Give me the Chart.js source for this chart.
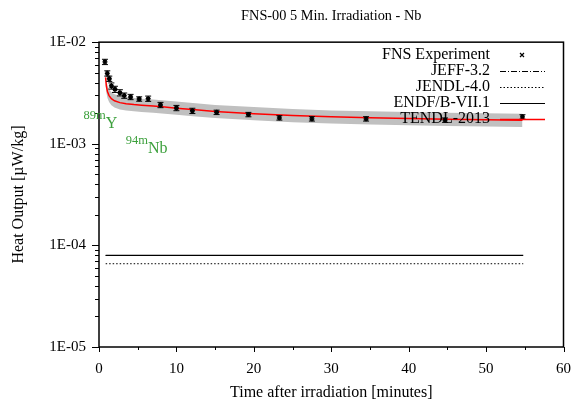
<!DOCTYPE html>
<html>
<head>
<meta charset="utf-8">
<script src="https://cdn.jsdelivr.net/npm/chart.js@4.4.1/dist/chart.umd.min.js"></script>
<style>
html, body { margin: 0; padding: 0; background: #fff; }
</style>
</head>
<body>
<canvas id="chart" width="576" height="404"></canvas>
<script>
// ---- data ----
const expTime = [0.77, 1.07, 1.33, 1.6, 2.06, 2.7, 3.26, 4.08, 5.19, 6.35, 7.94, 10.0, 12.06, 15.19, 19.3, 23.3, 27.5, 34.5, 44.7, 54.7];
const expHeat = [6.4e-3, 4.93e-3, 4.37e-3, 3.71e-3, 3.44e-3, 3.18e-3, 2.98e-3, 2.89e-3, 2.76e-3, 2.78e-3, 2.41e-3, 2.25e-3, 2.11e-3, 2.04e-3, 1.94e-3, 1.80e-3, 1.76e-3, 1.76e-3, 1.71e-3, 1.84e-3];
const expErr  = [0.06, 0.06, 0.06, 0.07, 0.07, 0.07, 0.06, 0.06, 0.05, 0.06, 0.06, 0.06, 0.06, 0.05, 0.05, 0.05, 0.05, 0.05, 0.05, 0.05];

const tendlTime  = [0.85, 0.95, 1.1, 1.3, 1.6, 2.0, 2.7, 3.5, 4.5, 5.5, 7, 8.5, 10, 12.5, 15, 20, 25, 30, 35, 40, 45, 50, 54.7];
const tendlHeat  = [4.5e-3, 3.7e-3, 3.25e-3, 2.98e-3, 2.78e-3, 2.65e-3, 2.54e-3, 2.48e-3, 2.43e-3, 2.40e-3, 2.35e-3, 2.30e-3, 2.24e-3, 2.16e-3, 2.08e-3, 1.98e-3, 1.90e-3, 1.84e-3, 1.80e-3, 1.77e-3, 1.74e-3, 1.72e-3, 1.70e-3];
const tendlUpper = [5.0e-3, 4.3e-3, 3.75e-3, 3.45e-3, 3.22e-3, 3.07e-3, 2.95e-3, 2.88e-3, 2.82e-3, 2.78e-3, 2.73e-3, 2.67e-3, 2.60e-3, 2.51e-3, 2.41e-3, 2.30e-3, 2.20e-3, 2.13e-3, 2.09e-3, 2.05e-3, 2.02e-3, 2.00e-3, 1.97e-3];
const tendlLower = [3.9e-3, 3.2e-3, 2.8e-3, 2.57e-3, 2.39e-3, 2.28e-3, 2.18e-3, 2.13e-3, 2.09e-3, 2.06e-3, 2.02e-3, 1.98e-3, 1.93e-3, 1.86e-3, 1.79e-3, 1.70e-3, 1.63e-3, 1.58e-3, 1.55e-3, 1.52e-3, 1.50e-3, 1.48e-3, 1.46e-3];

const flatTime  = [0.86, 54.8];
const endfHeat  = [7.98e-5, 7.98e-5];
const jeffHeat  = [7.95e-5, 7.95e-5];
const jendlHeat = [6.6e-5, 6.6e-5];

const xTickValues = [0, 10, 20, 30, 40, 50, 60];
const yTickValues = [1e-5, 1e-4, 1e-3, 1e-2];
const yTickLabels = ['1E-05', '1E-04', '1E-03', '1E-02'];

const isoLabels = [
  { sup: '89m', main: 'Y',  x: -2.0, y: 1.43e-3 },
  { sup: '94m', main: 'Nb', x: 3.45, y: 8.1e-4 }
];

const SERIF = '"Liberation Serif", "DejaVu Serif", serif';
const GREEN = 'rgb(60,160,60)';

function pts(xs, ys) {
  return xs.map((x, i) => ({ x: x, y: ys[i] }));
}

// legend entries (drawn by hand, gnuplot style: text right, sample left of box edge)
const legendItems = [
  { text: 'FNS Experiment', kind: 'point' },
  { text: 'JEFF-3.2',       kind: 'line', color: '#000', dash: [6, 2, 1, 2] },
  { text: 'JENDL-4.0',      kind: 'line', color: '#000', dash: [1.5, 2] },
  { text: 'ENDF/B-VII.1',   kind: 'line', color: '#000', dash: [] },
  { text: 'TENDL-2013',     kind: 'line', color: '#ff0000', dash: [] }
];

// ---- plugins ----
const errorBars = {
  id: 'errorBars',
  afterDatasetsDraw(chart) {
    const { ctx, scales: { x, y } } = chart;
    ctx.save();
    ctx.strokeStyle = '#000';
    ctx.lineWidth = 1;
    expTime.forEach((t, i) => {
      const px = x.getPixelForValue(t);
      const top = y.getPixelForValue(expHeat[i] * (1 + expErr[i]));
      const bot = y.getPixelForValue(expHeat[i] * (1 - expErr[i]));
      ctx.beginPath();
      ctx.moveTo(px, top); ctx.lineTo(px, bot);
      ctx.moveTo(px - 3, top); ctx.lineTo(px + 3, top);
      ctx.moveTo(px - 3, bot); ctx.lineTo(px + 3, bot);
      ctx.stroke();
    });
    ctx.restore();
  }
};

const frameAndTicks = {
  id: 'frameAndTicks',
  afterDraw(chart) {
    const { ctx, chartArea: a, scales: { x, y } } = chart;
    ctx.save();
    ctx.strokeStyle = '#000';
    ctx.lineWidth = 1.5;
    ctx.strokeRect(a.left, a.top, a.right - a.left, a.bottom - a.top);
    ctx.lineWidth = 1;
    ctx.beginPath();
    // x ticks, major every 10, minor every 5
    for (let v = 0; v <= 60; v += 5) {
      const px = Math.round(x.getPixelForValue(v)) + 0.5;
      const len = (v % 10 === 0) ? 5 : 3;
      ctx.moveTo(px, a.bottom); ctx.lineTo(px, a.bottom + len);
    }
    // y ticks on log scale
    for (let e = -5; e <= -2; e++) {
      for (let m = 1; m <= 9; m++) {
        const v = m * Math.pow(10, e);
        if (v > 1.0001e-2) break;
        const py = Math.round(y.getPixelForValue(v)) + 0.5;
        const len = (m === 1) ? 7 : 4;
        ctx.moveTo(a.left, py); ctx.lineTo(a.left - len, py);
      }
    }
    ctx.stroke();
    ctx.restore();
  }
};

const isoText = {
  id: 'isoText',
  afterDraw(chart) {
    const { ctx, scales: { x, y } } = chart;
    ctx.save();
    ctx.fillStyle = GREEN;
    ctx.textBaseline = 'alphabetic';
    ctx.textAlign = 'left';
    isoLabels.forEach(l => {
      const px = x.getPixelForValue(l.x);
      const py = y.getPixelForValue(l.y);
      ctx.font = '12.5px ' + SERIF;
      ctx.fillText(l.sup, px, py - 9);
      const w = ctx.measureText(l.sup).width;
      ctx.font = '16px ' + SERIF;
      ctx.fillText(l.main, px + w, py);
    });
    ctx.restore();
  }
};

const gnuLegend = {
  id: 'gnuLegend',
  afterDraw(chart) {
    const { ctx } = chart;
    const textRight = 490, sx0 = 500, sx1 = 545, y0 = 55, dy = 16;
    ctx.save();
    ctx.font = '16px ' + SERIF;
    ctx.textAlign = 'right';
    ctx.textBaseline = 'middle';
    legendItems.forEach((it, i) => {
      const yy = y0 + i * dy;
      ctx.fillStyle = '#000';
      ctx.fillText(it.text, textRight, yy);
      if (it.kind === 'point') {
        ctx.beginPath();
        ctx.strokeStyle = '#000';
        ctx.lineWidth = 1.2;
        ctx.moveTo(520, yy - 2); ctx.lineTo(524, yy + 2);
        ctx.moveTo(520, yy + 2); ctx.lineTo(524, yy - 2);
        ctx.stroke();
      } else {
        ctx.beginPath();
        ctx.strokeStyle = it.color;
        ctx.lineWidth = it.color === '#ff0000' ? 1.5 : 1.2;
        ctx.setLineDash(it.dash);
        ctx.moveTo(sx0, yy + 0.5); ctx.lineTo(sx1, yy + 0.5);
        ctx.stroke();
        ctx.setLineDash([]);
      }
    });
    ctx.restore();
  }
};

// ---- chart ----
const ctx = document.getElementById('chart').getContext('2d');
new Chart(ctx, {
  type: 'line',
  data: {
    datasets: [
      {
        label: 'FNS Experiment',
        data: pts(expTime, expHeat),
        showLine: false,
        pointStyle: 'star',
        pointRadius: 2.5,
        borderColor: '#000',
        backgroundColor: '#000',
        borderWidth: 1.4
      },
      {
        label: 'TENDL-2013',
        data: pts(tendlTime, tendlHeat),
        borderColor: '#ff0000',
        borderWidth: 1.5,
        pointRadius: 0,
        fill: false
      },
      {
        label: 'ENDF/B-VII.1',
        data: pts(flatTime, endfHeat),
        borderColor: '#000',
        borderWidth: 1.2,
        pointRadius: 0,
        fill: false
      },
      {
        label: 'JEFF-3.2',
        data: pts(flatTime, jeffHeat),
        borderColor: '#000',
        borderWidth: 1,
        borderDash: [6, 2, 1, 2],
        pointRadius: 0,
        fill: false
      },
      {
        label: 'JENDL-4.0',
        data: pts(flatTime, jendlHeat),
        borderColor: '#000',
        borderWidth: 1,
        borderDash: [1.5, 2],
        pointRadius: 0,
        fill: false
      },
      {
        label: 'TENDL upper',
        data: pts(tendlTime, tendlUpper),
        borderColor: 'rgba(0,0,0,0)',
        borderWidth: 0,
        backgroundColor: 'rgb(192,192,192)',
        pointRadius: 0,
        fill: '+1'
      },
      {
        label: 'TENDL lower',
        data: pts(tendlTime, tendlLower),
        borderColor: 'rgba(0,0,0,0)',
        borderWidth: 0,
        pointRadius: 0,
        fill: false
      }
    ]
  },
  options: {
    responsive: false,
    animation: false,
    events: [],
    layout: { padding: { top: 0, right: 12, bottom: 0, left: 0 } },
    plugins: {
      legend: { display: false },
      tooltip: { enabled: false },
      title: {
        display: true,
        fullSize: false,
        text: 'FNS-00 5 Min. Irradiation - Nb',
        color: '#000',
        font: { family: SERIF, size: 14.3, weight: 'normal' },
        padding: { top: 8, bottom: 17 }
      }
    },
    scales: {
      x: {
        type: 'linear',
        min: 0,
        max: 60,
        afterBuildTicks: s => { s.ticks = xTickValues.map(v => ({ value: v })); },
        afterFit: s => { s.height = 57; },
        grid: { display: false },
        border: { display: false },
        ticks: {
          color: '#000',
          padding: 5,
          maxRotation: 0,
          autoSkip: false,
          font: { family: SERIF, size: 15 }
        },
        title: {
          display: true,
          text: 'Time after irradiation [minutes]',
          color: '#000',
          font: { family: SERIF, size: 16 },
          padding: { bottom: 2 }
        }
      },
      y: {
        type: 'logarithmic',
        min: 1e-5,
        max: 1e-2,
        afterBuildTicks: s => { s.ticks = yTickValues.map(v => ({ value: v })); },
        afterFit: s => { s.width = 99; },
        grid: { display: false },
        border: { display: false },
        ticks: {
          color: '#000',
          padding: 5,
          autoSkip: false,
          font: { family: SERIF, size: 15 },
          callback: (v, i) => yTickLabels[i]
        },
        title: {
          display: true,
          text: 'Heat Output [µW/kg]',
          color: '#000',
          font: { family: SERIF, size: 16 },
          padding: { top: 9 }
        }
      }
    }
  },
  plugins: [errorBars, frameAndTicks, isoText, gnuLegend]
});
</script>
</body>
</html>
